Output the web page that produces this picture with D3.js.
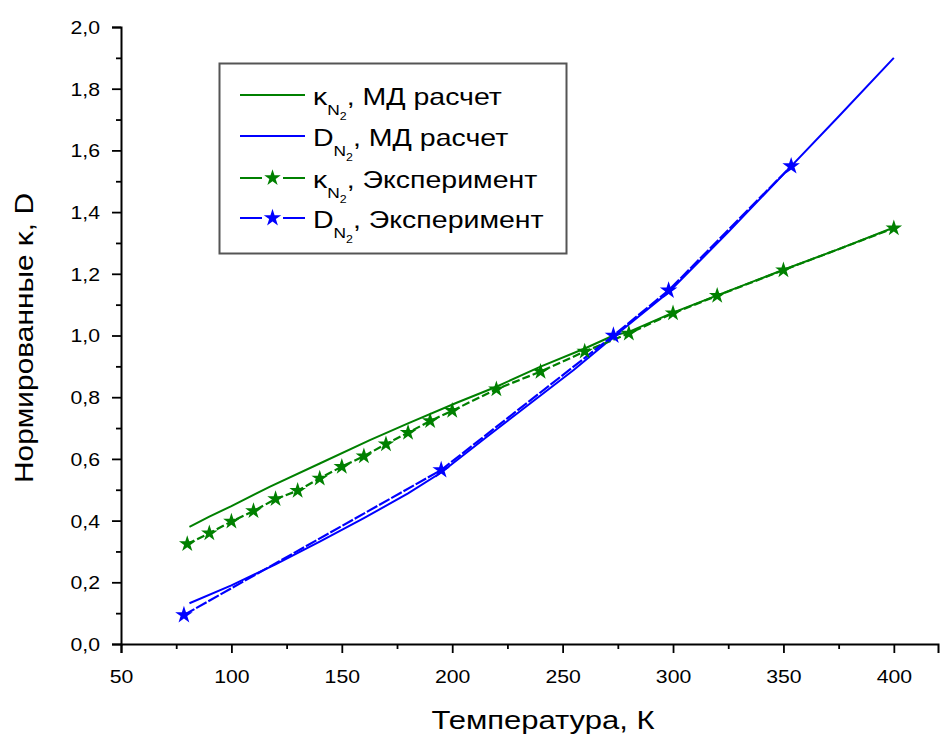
<!DOCTYPE html>
<html>
<head>
<meta charset="utf-8">
<script src="https://cdn.jsdelivr.net/npm/d3@7"></script>
<style>
  html, body { margin: 0; padding: 0; background: #fff; }
  svg { display: block; font-family: "Liberation Sans", Arial, sans-serif; }
</style>
</head>
<body>
<svg id="chart" width="944" height="735"></svg>
<script>
// Normalised thermal conductivity (κ) and diffusion coefficient (D) of N2 vs temperature
const kappaMdT = [81, 90, 100, 117.5, 140, 162.7, 180, 202, 220, 240, 260, 273, 280, 300, 320, 350, 375, 400];
const kappaMdV = [0.38, 0.413, 0.447, 0.51, 0.585, 0.661, 0.715, 0.782, 0.834, 0.899, 0.958, 1.0, 1.012, 1.074, 1.13, 1.213, 1.28, 1.35];

const diffMdT = [81, 100, 120, 140, 160, 180, 195, 215, 235, 255, 273, 298, 325, 353, 375, 400];
const diffMdV = [0.132, 0.19, 0.258, 0.332, 0.408, 0.488, 0.556, 0.668, 0.778, 0.888, 0.995, 1.14, 1.335, 1.545, 1.71, 1.90];

const kappaExpT = [80, 90, 100, 110, 120, 130, 140, 150, 160, 170, 180, 190, 200, 220, 240, 260, 280, 300, 320, 350, 400];
const kappaExpV = [0.324, 0.359, 0.397, 0.431, 0.470, 0.497, 0.537, 0.575, 0.609, 0.648, 0.685, 0.723, 0.756, 0.826, 0.883, 0.948, 1.007, 1.072, 1.129, 1.212, 1.348];

const diffExpT = [78.5, 195, 273, 298, 353.5];
const diffExpV = [0.094, 0.564, 1.0, 1.146, 1.549];

const xTicks = [50, 100, 150, 200, 250, 300, 350, 400];
const yTicks = [0, 0.2, 0.4, 0.6, 0.8, 1.0, 1.2, 1.4, 1.6, 1.8, 2.0];

const GREEN = "#008000";
const BLUE = "#0000ff";
const WIDE = 1.18;   // glyph widening used for tick labels

const svg = d3.select("#chart");

const x = d3.scaleLinear().domain([50, 420]).range([121, 938]);
const y = d3.scaleLinear().domain([0, 2]).range([644, 27]);

const fmt = d => d3.format(".1f")(d).replace(".", ",");

// Axes
const xAxis = svg.append("g").attr("transform", `translate(0,${y(0)})`)
  .call(d3.axisBottom(x).tickValues(xTicks).tickSize(9).tickFormat(d3.format("d")));
const xMinor = svg.append("g").attr("transform", `translate(0,${y(0)})`)
  .call(d3.axisBottom(x).tickValues(d3.range(75, 420, 50)).tickSize(5).tickFormat(""));
const yAxis = svg.append("g").attr("transform", `translate(${x(50)},0)`)
  .call(d3.axisLeft(y).tickValues(yTicks).tickSize(9).tickFormat(fmt));
const yMinor = svg.append("g").attr("transform", `translate(${x(50)},0)`)
  .call(d3.axisLeft(y).tickValues(d3.range(0.1, 2, 0.2)).tickSize(5).tickFormat(""));

[xAxis, xMinor, yAxis, yMinor].forEach(g => {
  g.attr("font-size", null).attr("font-family", null);
  g.select(".domain").attr("stroke", "#000").attr("stroke-width", 2);
  g.selectAll(".tick line").attr("stroke", "#000").attr("stroke-width", 1.8);
});
xMinor.select(".domain").remove();
yMinor.select(".domain").remove();

xAxis.selectAll(".tick text")
  .attr("y", 0).attr("dy", null)
  .attr("transform", `translate(0,39) scale(${WIDE},1)`)
  .attr("fill", "#000").style("font-size", "18px");
yAxis.selectAll(".tick text")
  .attr("x", 0).attr("dy", "0.36em")
  .attr("transform", `translate(-21,0) scale(${WIDE},1)`)
  .attr("fill", "#000").style("font-size", "18px");

// Axis titles
svg.append("text")
  .attr("x", 543).attr("y", 729)
  .attr("text-anchor", "middle")
  .attr("textLength", 223).attr("lengthAdjust", "spacingAndGlyphs")
  .style("font-size", "26px")
  .text("Температура, К");

svg.append("text")
  .attr("transform", "translate(33,338) rotate(-90)")
  .attr("text-anchor", "middle")
  .attr("textLength", 290).attr("lengthAdjust", "spacingAndGlyphs")
  .style("font-size", "26px")
  .text("Нормированные κ, D");

// Series
const line = d3.line().x(d => x(d[0])).y(d => y(d[1]));
const zip = (a, b) => a.map((v, i) => [v, b[i]]);

const kappaMd = zip(kappaMdT, kappaMdV);
const diffMd = zip(diffMdT, diffMdV);
const kappaExp = zip(kappaExpT, kappaExpV);
const diffExp = zip(diffExpT, diffExpV);

svg.append("path").datum(kappaMd).attr("d", line)
  .attr("fill", "none").attr("stroke", GREEN).attr("stroke-width", 2);
svg.append("path").datum(diffMd).attr("d", line)
  .attr("fill", "none").attr("stroke", BLUE).attr("stroke-width", 2);

svg.append("path").datum(kappaExp).attr("d", line)
  .attr("fill", "none").attr("stroke", GREEN).attr("stroke-width", 2.2)
  .attr("stroke-dasharray", "8,3");
svg.append("path").datum(diffExp).attr("d", line)
  .attr("fill", "none").attr("stroke", BLUE).attr("stroke-width", 2.2)
  .attr("stroke-dasharray", "12,2");

const star = d3.symbol().type(d3.symbolStar).size(85);
const starBig = d3.symbol().type(d3.symbolStar).size(95);

svg.append("g").selectAll("path").data(kappaExp).join("path")
  .attr("d", star)
  .attr("transform", d => `translate(${x(d[0])},${y(d[1])})`)
  .attr("fill", GREEN);

svg.append("g").selectAll("path").data(diffExp).join("path")
  .attr("d", starBig)
  .attr("transform", d => `translate(${x(d[0])},${y(d[1])})`)
  .attr("fill", BLUE);

// Legend
const legend = svg.append("g");
legend.append("rect")
  .attr("x", 219.5).attr("y", 63.5).attr("width", 347).attr("height", 190)
  .attr("fill", "#fff").attr("stroke", "#555").attr("stroke-width", 2);

const legendItems = [
  { sym: "κ", label: ", МД расчет", color: GREEN, marker: false, y: 95 },
  { sym: "D", label: ", МД расчет", color: BLUE, marker: false, y: 136 },
  { sym: "κ", label: ", Эксперимент", color: GREEN, marker: true, y: 178 },
  { sym: "D", label: ", Эксперимент", color: BLUE, marker: true, y: 218 }
];

legendItems.forEach(it => {
  const g = legend.append("g");
  if (it.marker) {
    g.append("line").attr("x1", 240).attr("x2", 262).attr("y1", it.y).attr("y2", it.y)
      .attr("stroke", it.color).attr("stroke-width", 2);
    g.append("line").attr("x1", 283).attr("x2", 305).attr("y1", it.y).attr("y2", it.y)
      .attr("stroke", it.color).attr("stroke-width", 2);
    g.append("path").attr("d", it.color === BLUE ? starBig : star)
      .attr("transform", `translate(272.5,${it.y})`).attr("fill", it.color);
  } else {
    g.append("line").attr("x1", 240).attr("x2", 305).attr("y1", it.y).attr("y2", it.y)
      .attr("stroke", it.color).attr("stroke-width", 2);
  }
  const t = g.append("text")
    .attr("transform", `translate(313,${it.y + 10}) scale(1.24,1)`)
    .style("font-size", "23px").attr("fill", "#000");
  t.append("tspan").text(it.sym);
  t.append("tspan").attr("dy", 10).style("font-size", "14px").text("N");
  t.append("tspan").attr("dy", 5).style("font-size", "10px").text("2");
  t.append("tspan").attr("dy", -15).style("font-size", "23px").text(it.label);
});
</script>
</body>
</html>
